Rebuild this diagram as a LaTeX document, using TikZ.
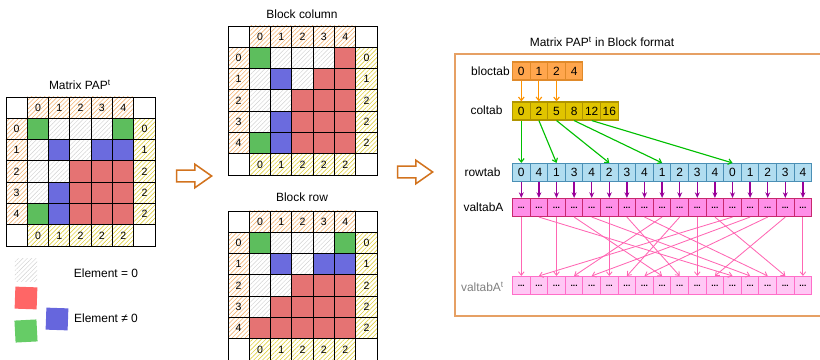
\documentclass[tikz,border=0pt]{standalone}
\usepackage{fontspec}
\setmainfont{Liberation Sans}
\usetikzlibrary{patterns.meta,shapes.arrows,arrows.meta,positioning}
\definecolor{cgreen}{HTML}{5DBE5D}
\definecolor{cblue}{HTML}{6B6BDE}
\definecolor{cred}{HTML}{E57373}
\definecolor{lgreen}{HTML}{66CC66}
\definecolor{lblue}{HTML}{6666DD}
\definecolor{lred}{HTML}{FF6666}
\definecolor{corange}{HTML}{F0A050}
\definecolor{cyellow}{HTML}{E0D040}
\definecolor{carrow}{HTML}{D2731E}
\definecolor{cbox}{HTML}{E6A064}
\definecolor{blocfill}{HTML}{FFA64D}
\definecolor{blocline}{HTML}{E08A2A}
\definecolor{colfill}{HTML}{E0C400}
\definecolor{colline}{HTML}{B09500}
\definecolor{rowfill}{HTML}{B1DDF0}
\definecolor{rowline}{HTML}{4A8FB5}
\definecolor{valfill}{HTML}{FF8FE8}
\definecolor{valline}{HTML}{C8286E}
\definecolor{vtfill}{HTML}{FFC8F5}
\definecolor{vtline}{HTML}{FF6EC8}
\definecolor{parrow}{HTML}{990099}
\definecolor{karrow}{HTML}{FF66B3}
\begin{document}
\begin{tikzpicture}[x=0.025cm, y=-0.025cm, font=\fontsize{8.5}{10}\selectfont,
    cell/.style={draw=black, line width=0.7pt, minimum size=0.5325cm, inner sep=0pt,
        font=\fontsize{7.5}{9}\selectfont},
    cellw/.style={pattern={Lines[angle=45,distance=2.2pt,line width=0.3pt]}, pattern color=black!18},
    cellg/.style={fill=cgreen}, cellb/.style={fill=cblue}, cellr/.style={fill=cred},
    hdtop/.style={cell, pattern={Lines[angle=45,distance=2.2pt,line width=0.4pt]}, pattern color=corange!80},
    hdend/.style={cell, pattern={Lines[angle=45,distance=2.2pt,line width=0.4pt]}, pattern color=cyellow},
    legsq/.style={minimum size=0.55cm, inner sep=0pt},
    bigarrow/.style={single arrow, draw=carrow, line width=1.1pt, fill=white, minimum height=0.875cm,
        single arrow head extend=0.15cm, inner sep=0.125cm, single arrow tip angle=70},
    arr/.style={draw, line width=0.8pt, minimum width=0.44cm, minimum height=0.45cm, inner sep=0pt},
    bloc/.style={arr, fill=blocfill, draw=blocline},
    colt/.style={arr, fill=colfill, draw=colline},
    rowt/.style={arr, fill=rowfill, draw=rowline},
    val/.style={arr, fill=valfill, draw=valline, font=\fontsize{6}{6}\selectfont\bfseries},
    valt/.style={arr, fill=vtfill, draw=vtline, font=\fontsize{6}{6}\selectfont\bfseries},
    oarr/.style={draw=orange!85!yellow, line width=0.8pt, -{Straight Barb[length=2.5pt,width=4pt]}},
    garr/.style={draw=green!75!black, line width=0.8pt, -{Straight Barb[length=2.5pt,width=4pt]}},
    parr/.style={draw=parrow, line width=1pt, -{Stealth[length=4pt,width=3.5pt]}},
    karr/.style={draw=karrow, line width=0.6pt, -{Straight Barb[length=2.5pt,width=4pt]}}]
    \useasboundingbox (0,0) rectangle (820,360);

    % the three matrices
    \foreach \m/\ox/\oy/\cells in {A/6/97/{g,w,w,w,g,w,b,w,b,b,w,w,r,r,r,w,b,r,r,r,g,b,r,r,r},
            C/228/26/{g,w,w,w,r,w,b,w,r,r,w,w,r,r,r,w,b,r,r,r,g,b,r,r,r},
            R/228/211/{g,w,w,w,g,w,b,w,b,b,w,w,r,r,r,w,r,r,r,r,r,r,r,r,r}} {
        \foreach \k [count=\n from 0] in \cells {
            \pgfmathtruncatemacro\ri{div(\n,5)}
            \pgfmathtruncatemacro\ci{mod(\n,5)}
            \node[cell, cell\k] (\m-\ri-\ci) at (\ox+21.3*\ci+32, \oy+21.3*\ri+32) {};
        }
        \foreach \i/\v in {0/0,1/1,2/2,3/2,4/2} {
            \node[hdtop] (\m-t\i) at (\ox+21.3*\i+32, \oy+10.65) {\i};
            \node[hdtop] (\m-l\i) at (\ox+10.65, \oy+21.3*\i+32) {\i};
            \node[hdend] (\m-r\i) at (\ox+138.45, \oy+21.3*\i+32) {\v};
            \node[hdend] (\m-b\i) at (\ox+21.3*\i+32, \oy+138.45) {\v};
        }
        \foreach \x/\y [count=\j] in {10.65/10.65,138.45/10.65,10.65/138.45,138.45/138.45}
            \node[cell] (\m-k\j) at (\ox+\x, \oy+\y) {};
    }
    \node (tA) at (80,85) {Matrix PAP\textsuperscript{t}};
    \node (tC) at (302,14) {Block column};
    \node (tR) at (302,197) {Block row};

    \node[bigarrow] (s1) at (190,176) {};
    \node[bigarrow] (s2) at (411,172) {};

    % legend
    \node[legsq, cellw] (lz) at (26,270) {};
    \node (lzt) at (106,273) {Element = 0};
    \node[legsq, fill=lred, rotate=-2] (lr) at (26,298) {};
    \node[legsq, fill=lgreen, rotate=3] (lg) at (26,331) {};
    \node[legsq, fill=lblue, rotate=-2] (lb) at (57,319) {};
    \node (lnzt) at (106,318) {Element ≠ 0};

    % block format
    \draw[cbox, line width=1pt] (455,54) rectangle (830,316);
    \node (tB) at (602,42) {Matrix PAP\textsuperscript{t} in Block format};
    \foreach \v [count=\i from 0] in {0,1,2,4}
        \node[bloc] (bloc\i) at (521.3+17.6*\i, 71) {\v};
    \foreach \v [count=\i from 0] in {0,2,5,8,12,16}
        \node[colt] (col\i) at (521.3+17.6*\i, 111) {\v};
    \foreach \v [count=\i from 0] in {0,4,1,3,4,2,3,4,1,2,3,4,0,1,2,3,4} {
        \node[rowt] (row\i) at (521.3+17.6*\i, 172.5) {\v};
        \node[val] (val\i) at (521.3+17.6*\i, 207.5) {...};
        \node[valt] (valt\i) at (521.3+17.6*\i, 285.5) {...};
    }
    \node (lbloc) at (490.5,71) {bloctab};
    \node (lcol) at (486.5,110) {coltab};
    \node (lrow) at (482.5,172) {rowtab};
    \node (lval) at (483.5,207.5) {valtabA};
    \node[gray] (lvalt) at (482.5,287) {valtabA\textsuperscript{t}};

    \foreach \i in {0,1,2}
        \draw[oarr] (bloc\i) -- (col\i);
    \foreach \j/\k in {0/0,1/2,2/5,3/8,4/12}
        \draw[garr] (col\j.south) -- (row\k.north);
    \foreach \i in {0,...,16}
        \draw[parr] (row\i) -- (val\i);
    \foreach \k/\p in {0/0,1/12,2/2,3/8,4/13,5/5,6/9,7/14,8/3,9/6,10/10,11/15,12/1,13/4,14/7,15/11,16/16}
        \draw[karr] (val\k.south) -- (valt\p.north);
\end{tikzpicture}
\end{document}
